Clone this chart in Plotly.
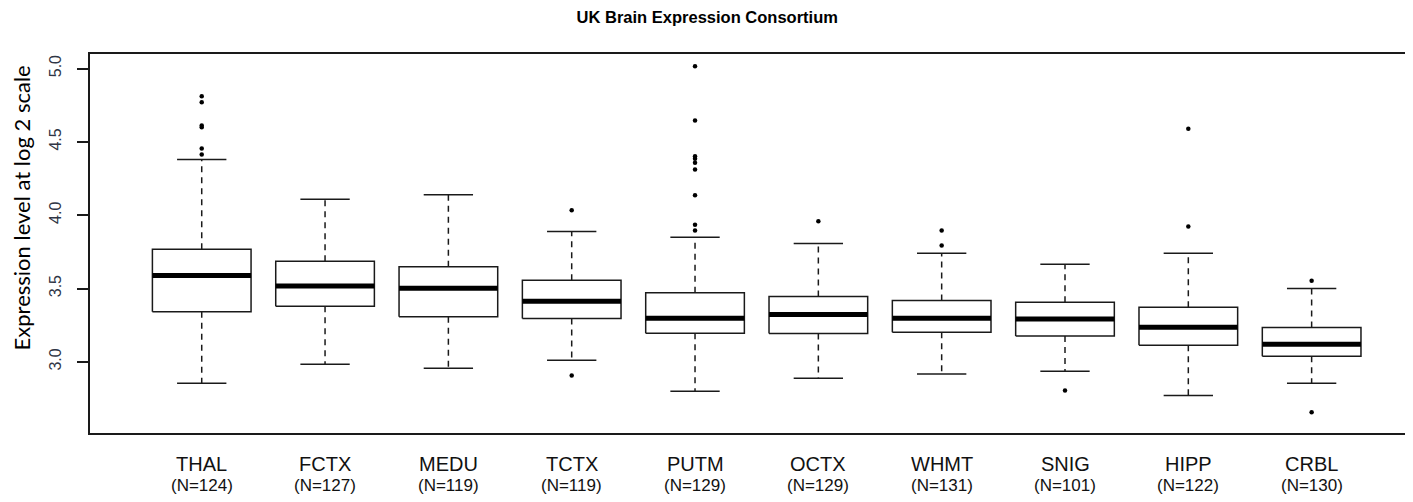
import plotly.graph_objects as go

# ---- data ----
regions = ["THAL", "FCTX", "MEDU", "TCTX", "PUTM", "OCTX", "WHMT", "SNIG", "HIPP", "CRBL"]
n_samples = [124, 127, 119, 119, 129, 129, 131, 101, 122, 130]
whisker_low = [2.854, 2.984, 2.957, 3.011, 2.800, 2.888, 2.918, 2.936, 2.770, 2.854]
q1 = [3.341, 3.379, 3.307, 3.295, 3.195, 3.193, 3.202, 3.177, 3.113, 3.038]
median = [3.589, 3.518, 3.502, 3.414, 3.298, 3.323, 3.298, 3.293, 3.236, 3.120]
q3 = [3.768, 3.686, 3.648, 3.557, 3.471, 3.445, 3.418, 3.407, 3.373, 3.234]
whisker_high = [4.380, 4.109, 4.139, 3.889, 3.850, 3.807, 3.741, 3.666, 3.741, 3.500]
outliers = [
    [4.811, 4.770, 4.611, 4.600, 4.455, 4.414],
    [],
    [],
    [4.034, 2.907],
    [5.016, 4.645, 4.402, 4.384, 4.357, 4.311, 4.136, 3.934, 3.895],
    [3.959],
    [3.895, 3.793],
    [2.805],
    [4.589, 3.923],
    [3.553, 2.657],
]
y_ticks = [3.0, 3.5, 4.0, 4.5, 5.0]

BOX_HALF = 0.4
CAP_HALF = 0.2
INK = "#1a1a1a"

pos = list(range(1, len(regions) + 1))

box_x, box_y = [], []
med_x, med_y = [], []
wh_x, wh_y = [], []
cap_x, cap_y = [], []
out_x, out_y = [], []
for i, p in enumerate(pos):
    box_x += [p - BOX_HALF, p + BOX_HALF, p + BOX_HALF, p - BOX_HALF, p - BOX_HALF, None]
    box_y += [q1[i], q1[i], q3[i], q3[i], q1[i], None]
    med_x += [p - BOX_HALF, p + BOX_HALF, None]
    med_y += [median[i], median[i], None]
    wh_x += [p, p, None, p, p, None]
    wh_y += [q3[i], whisker_high[i], None, q1[i], whisker_low[i], None]
    cap_x += [p - CAP_HALF, p + CAP_HALF, None, p - CAP_HALF, p + CAP_HALF, None]
    cap_y += [whisker_high[i], whisker_high[i], None, whisker_low[i], whisker_low[i], None]
    for v in outliers[i]:
        out_x.append(p)
        out_y.append(v)

fig = go.Figure()
fig.add_trace(go.Scatter(x=wh_x, y=wh_y, mode="lines",
                         line=dict(color=INK, width=1.5, dash="6px,5px"),
                         hoverinfo="skip", showlegend=False))
fig.add_trace(go.Scatter(x=cap_x, y=cap_y, mode="lines",
                         line=dict(color=INK, width=1.5),
                         hoverinfo="skip", showlegend=False))
fig.add_trace(go.Scatter(x=box_x, y=box_y, mode="lines", fill="toself",
                         fillcolor="white", line=dict(color=INK, width=1.5),
                         hoverinfo="skip", showlegend=False))
fig.add_trace(go.Scatter(x=med_x, y=med_y, mode="lines",
                         line=dict(color="black", width=5),
                         hoverinfo="skip", showlegend=False))
fig.add_trace(go.Scatter(x=out_x, y=out_y, mode="markers",
                         marker=dict(color="black", size=4.5),
                         hoverinfo="skip", showlegend=False))

# category labels (two lines)
for i, p in enumerate(pos):
    fig.add_annotation(x=p, xref="x", y=0, yref="paper", yshift=-31,
                       text=regions[i], showarrow=False, yanchor="middle",
                       font=dict(family="Liberation Sans, Arial", size=20, color="#111"))
    fig.add_annotation(x=p, xref="x", y=0, yref="paper", yshift=-52,
                       text=f"(N={n_samples[i]})", showarrow=False, yanchor="middle",
                       font=dict(family="Liberation Sans, Arial", size=17, color="#111"))

# y axis title
fig.add_annotation(x=-0.0514, xref="paper", y=0.5937, yref="paper",
                   text="Expression level at log 2 scale", textangle=-90,
                   showarrow=False, xanchor="center", yanchor="middle",
                   font=dict(family="Lato, Noto Sans", size=22, color="black"))

fig.update_layout(
    width=1397, height=486,
    margin=dict(l=82, r=0, t=46, b=61),
    paper_bgcolor="white", plot_bgcolor="white",
    title=dict(text="<b>UK Brain Expression Consortium</b>", xref="paper", x=0.4694,
               xanchor="center", yref="container", y=0.9805, yanchor="middle",
               font=dict(family="Liberation Sans, Arial", size=16.5, color="black")),
    xaxis=dict(range=[0.094, 10.757], showgrid=False, zeroline=False,
               showticklabels=False, ticks="", showline=True, mirror=True,
               linecolor=INK, linewidth=1.5),
    yaxis=dict(range=[2.515, 5.099], showgrid=False, zeroline=False,
               tickvals=y_ticks, ticktext=[f"{v:.1f}" for v in y_ticks],
               ticks="outside", ticklen=11, tickwidth=1.5, tickcolor=INK,
               tickangle=-90, ticklabelstandoff=10, showline=True, mirror=False,
               linecolor=INK, linewidth=1.5,
               tickfont=dict(family="Liberation Sans, Arial", size=16, color="#2f3545")),
)

fig.write_html("out.html")
